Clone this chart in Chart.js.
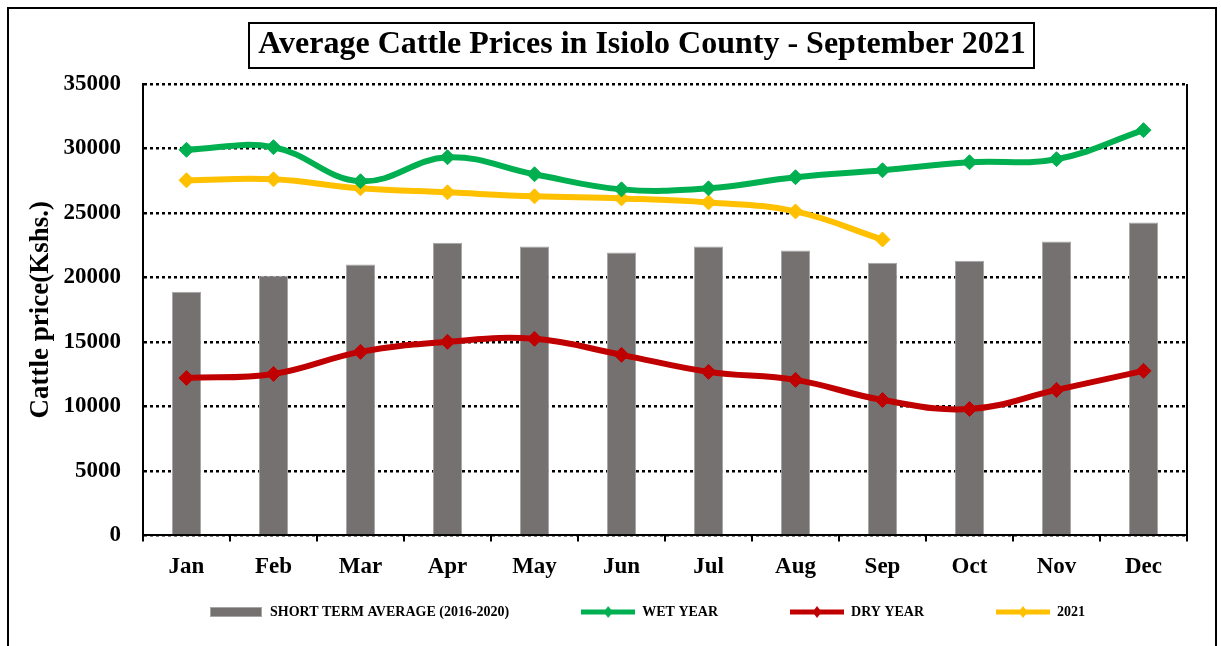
<!DOCTYPE html>
<html>
<head>
<meta charset="utf-8">
<title>Average Cattle Prices in Isiolo County</title>
<script src="https://cdn.jsdelivr.net/npm/chart.js@4/dist/chart.umd.min.js"></script>
<style>
  html, body { margin: 0; padding: 0; background: #fff; }
  canvas { display: block; }
</style>
</head>
<body>
<canvas id="chart" width="1221" height="646"></canvas>
<script>
const months = ['Jan', 'Feb', 'Mar', 'Apr', 'May', 'Jun', 'Jul', 'Aug', 'Sep', 'Oct', 'Nov', 'Dec']
const shortTermAverage = [18900, 20140, 21000, 22700, 22400, 21930, 22400, 22090, 21150, 21300, 22790, 24270]
const wetYear = [29900, 30100, 27460, 29320, 28000, 26830, 26910, 27770, 28310, 28930, 29170, 31420]
const dryYear = [12210, 12520, 14230, 15010, 15240, 14000, 12680, 12060, 10500, 9800, 11280, 12760]
const year2021 = [27530, 27610, 26910, 26600, 26290, 26130, 25820, 25120, 22940, null, null, null]
const yMax = 35000
const yStep = 5000

const FONT = "'Liberation Serif', 'Times New Roman', serif"
const titleText = 'Average Cattle Prices in Isiolo County - September 2021'
const titleSize = 32

Chart.defaults.font.family = FONT
Chart.defaults.font.weight = 'bold'
Chart.defaults.color = '#000'

// little pictures for the legend: a bar swatch, or a line with a diamond on it
const legendMarker = (kind, color) => {
  const c = document.createElement('canvas')
  c.width = 54
  c.height = 12
  const g = c.getContext('2d')
  if (kind === 'bar') {
    g.fillStyle = '#a6a6a6'
    g.fillRect(1, 1, 52, 10)
    g.fillStyle = color
    g.fillRect(2, 2, 50, 8)
  } else {
    g.strokeStyle = color
    g.lineWidth = 5
    g.beginPath()
    g.moveTo(0, 6)
    g.lineTo(54, 6)
    g.stroke()
    g.fillStyle = color
    g.beginPath()
    g.moveTo(27, 0)
    g.lineTo(31.5, 6)
    g.lineTo(27, 12)
    g.lineTo(22.5, 6)
    g.closePath()
    g.fill()
  }
  return c
}

const frame = {
  id: 'frame',
  afterLayout(chart) {
    // title and legend sit a little right of centre in the original
    const t = chart.titleBlock
    const shiftT = 642 - (t.left + t.right) / 2
    t.left += shiftT
    t.right += shiftT

    const lg = chart.legend
    const p = lg.options.labels.padding
    const start = (lg.left + p + lg.right - lg.lineWidths[0]) / 2
    const dx = 209 - start
    lg.left += dx
    lg.right += dx
    // legend clips to its own box, so open the box down to the canvas edge
    lg.top = 612 - (p + 7)
    lg.bottom = chart.height
  },
  beforeDraw(chart) {
    const ctx = chart.ctx
    ctx.save()
    ctx.fillStyle = '#fff'
    ctx.fillRect(0, 0, chart.width, chart.height)
    ctx.strokeStyle = '#000'
    ctx.lineWidth = 2
    ctx.strokeRect(8, 8, 1208, 700)
    ctx.restore()
  },
  afterDraw(chart) {
    const ctx = chart.ctx
    const t = chart.titleBlock
    const area = chart.chartArea
    ctx.save()
    ctx.font = `bold ${titleSize}px ${FONT}`
    const w = ctx.measureText(titleText).width
    const cx = (t.left + t.right) / 2
    const cy = t.top + t.options.padding.top + titleSize * 1.2 / 2
    ctx.strokeStyle = '#000'
    ctx.lineWidth = 2
    ctx.strokeRect(Math.round(cx - w / 2 - 9), Math.round(cy - 22), Math.round(w + 18), 45)

    ctx.beginPath()
    ctx.moveTo(area.right, area.top)
    ctx.lineTo(area.right, area.bottom)
    ctx.stroke()
    ctx.restore()
  }
}

const markers = [
  legendMarker('bar', '#767171'),
  legendMarker('line', '#00B050'),
  legendMarker('line', '#C00000'),
  legendMarker('line', '#FFC000')
]

const lineStyle = (color) => ({
  type: 'line',
  borderColor: color,
  backgroundColor: color,
  borderWidth: 6,
  tension: 0.4,
  pointStyle: 'rectRot',
  pointRadius: 7.5,
  pointBorderWidth: 1,
  pointBackgroundColor: color,
  pointBorderColor: color,
  spanGaps: false
})

new Chart(document.getElementById('chart'), {
  data: {
    labels: months,
    datasets: [
      {
        type: 'bar',
        label: 'SHORT TERM AVERAGE (2016-2020)',
        data: shortTermAverage,
        backgroundColor: '#767171',
        borderColor: '#a6a6a6',
        borderWidth: 1,
        barPercentage: 0.335,
        categoryPercentage: 1,
        order: 5
      },
      { ...lineStyle('#00B050'), label: 'WET YEAR', data: wetYear, order: 1 },
      { ...lineStyle('#C00000'), label: 'DRY YEAR', data: dryYear, order: 2 },
      { ...lineStyle('#FFC000'), label: '2021', data: year2021, order: 3 }
    ]
  },
  options: {
    responsive: false,
    animation: false,
    devicePixelRatio: 1,
    layout: { padding: { left: 0, right: 34, top: 0, bottom: 0 } },
    plugins: {
      title: {
        display: true,
        text: titleText,
        font: { size: titleSize, weight: 'bold' },
        color: '#000',
        padding: { top: 26, bottom: 19.6 }
      },
      legend: {
        position: 'bottom',
        maxHeight: 53,
        labels: {
          usePointStyle: true,
          pointStyleWidth: 54,
          padding: 72,
          font: { size: 14, weight: 'bold' },
          color: '#000',
          generateLabels: (chart) => chart.data.datasets.map((ds, i) => ({
            text: ds.label,
            pointStyle: markers[i],
            datasetIndex: i,
            hidden: false,
            lineWidth: 0,
            fillStyle: ds.backgroundColor,
            strokeStyle: ds.borderColor,
            fontColor: '#000'
          }))
        }
      },
      tooltip: { enabled: false }
    },
    scales: {
      x: {
        grid: {
          offset: true,
          drawOnChartArea: false,
          drawTicks: true,
          tickLength: 6,
          color: '#000',
          lineWidth: 2
        },
        border: { display: true, color: '#000', width: 2 },
        ticks: { padding: 12, font: { size: 23, weight: 'bold' }, color: '#000', maxRotation: 0 }
      },
      y: {
        min: 0,
        max: yMax,
        afterFit: (scale) => { scale.width = 143 },
        ticks: {
          stepSize: yStep,
          padding: 22,
          font: { size: 23, weight: 'bold' },
          color: '#000',
          callback: (v) => String(v)
        },
        grid: { color: '#000', lineWidth: 2.5, drawTicks: false },
        border: { display: true, color: '#000', width: 2, dash: [3, 3] },
        title: {
          display: true,
          text: 'Cattle price(Kshs.)',
          font: { size: 27, weight: 'bold' },
          color: '#000',
          padding: { top: 25, bottom: 0 }
        }
      }
    }
  },
  plugins: [frame]
})
</script>
</body>
</html>
